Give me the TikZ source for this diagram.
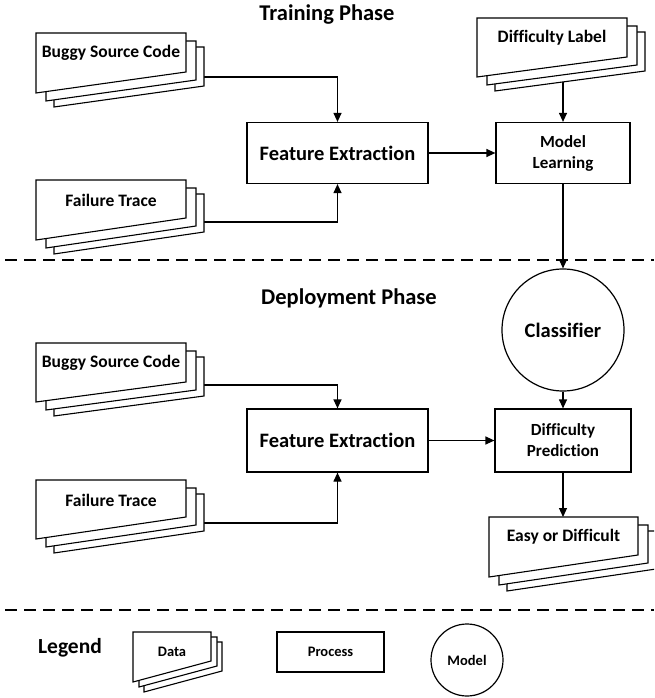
\documentclass[tikz,border=0pt]{standalone}
\usepackage{fontspec}
\setmainfont{Carlito}[Ligatures={NoCommon,NoRequired,NoContextual}]
\usetikzlibrary{arrows.meta,backgrounds,calc}

\newcommand{\docstack}[9]{%
  \foreach \dx/\dy in {#7,0/0}{
    \draw[sheet] (#2+\dx,#3+\dy) -- ++(#4,0) -- ++(0,#5) -- (#2+\dx,#3+\dy+#6) -- cycle;
  }
  \node[font=#8, inner sep=0pt] (#1) at (#2+#4/2,#3+20) {#9};
}

\begin{document}
\begin{tikzpicture}[x=1pt,y=-1pt,
  sheet/.style={draw=black, fill=white, line width=1.1pt, line join=miter},
  proc/.style={draw=black, fill=white, line width=1.2pt, rectangle, inner sep=0pt, align=center},
  model/.style={draw=black, fill=white, line width=1.2pt, circle, inner sep=0pt},
  conn/.style={line width=1.2pt, -{Triangle[length=9pt,width=8pt]}},
  sepline/.style={line width=1.4pt, dash pattern=on 12pt off 7pt},
  ttl/.style={font=\fontsize{22.5}{25}\selectfont\bfseries},
  lbl/.style={font=\fontsize{17}{20}\selectfont\bfseries},
  big/.style={font=\fontsize{20.5}{23}\selectfont\bfseries},
  small/.style={font=\fontsize{14.5}{17}\selectfont\bfseries},
]
\path[use as bounding box, clip] (0,0) rectangle (654,698);

% titles
\node[ttl] (T1) at (327,15) {Training Phase};
\node[ttl] (T2) at (349,298) {Deployment Phase};

% separators
\draw[sepline] (5,260) -- (654,260);
\draw[sepline] (5,610) -- (654,610);

% training phase
\docstack{BSC1}{36}{33}{150}{39}{60}{18/14,10/8}{\fontsize{17.5}{20}\selectfont\bfseries}{Buggy Source Code}
\docstack{FT1}{36}{180}{150}{38}{60}{18/14,10/8}{\fontsize{17.5}{20}\selectfont\bfseries}{Failure Trace}
\docstack{DL}{477}{18}{150}{39}{59}{18/14,10/8}{\fontsize{17.5}{20}\selectfont\bfseries}{Difficulty Label}
\node[proc, big, minimum width=181pt, minimum height=61pt] (FE1) at (337.5,153) {Feature Extraction};
\node[proc, lbl, minimum width=134pt, minimum height=61pt] (ML) at (563,153) {Model\\[1pt]Learning};
\coordinate (BSC1-r) at (204,77);
\coordinate (FT1-r) at (204,222);
\coordinate (DL-b) at (563,55);

% model
\node[model, big, minimum size=122pt] (CL) at (563,330) {Classifier};

% deployment phase
\docstack{BSC2}{36}{343}{150}{39}{59}{18/14,10/8}{\fontsize{17.5}{20}\selectfont\bfseries}{Buggy Source Code}
\docstack{FT2}{36}{480}{150}{37}{59}{18/14,10/8}{\fontsize{17.5}{20}\selectfont\bfseries}{Failure Trace}
\node[proc, big, minimum width=181pt, minimum height=63pt] (FE2) at (337.5,440.5) {Feature Extraction};
\node[proc, lbl, minimum width=136pt, minimum height=63pt] (DP) at (563,440.5) {Difficulty\\[1pt]Prediction};
\docstack{ED}{489}{517}{149}{38}{60}{18/14,10/8}{\fontsize{17.5}{20}\selectfont\bfseries}{Easy or Difficult}
\coordinate (BSC2-r) at (204,385);
\coordinate (FT2-r) at (204,523);
\coordinate (ED-t) at (563,517);

% legend
\node[font=\fontsize{21.5}{24}\selectfont\bfseries] (LG) at (70,648) {Legend};
\docstack{LD}{133}{632}{78}{29}{50}{11/10,6/5}{\fontsize{14.5}{17}\selectfont\bfseries}{Data}
\node[proc, small, minimum width=107pt, minimum height=40pt] (LP) at (330.5,652) {Process};
\node[model, small, minimum size=72pt] (LM) at (467,660) {Model};

% connectors
\begin{pgfonlayer}{background}
\draw[conn] (BSC1-r) -| (FE1.north);
\draw[conn] (FT1-r) -| (FE1.south);
\draw[conn] (FE1.east) -- (ML.west);
\draw[conn] (DL-b) -- (ML.north);
\draw[conn] (ML.south) -- (CL.north);
\draw[conn] (CL.south) -- (DP.north);
\draw[conn] (BSC2-r) -| (FE2.north);
\draw[conn] (FT2-r) -| (FE2.south);
\draw[conn] (FE2.east) -- (DP.west);
\draw[conn] (DP.south) -- (ED-t);
\end{pgfonlayer}
\end{tikzpicture}
\end{document}
